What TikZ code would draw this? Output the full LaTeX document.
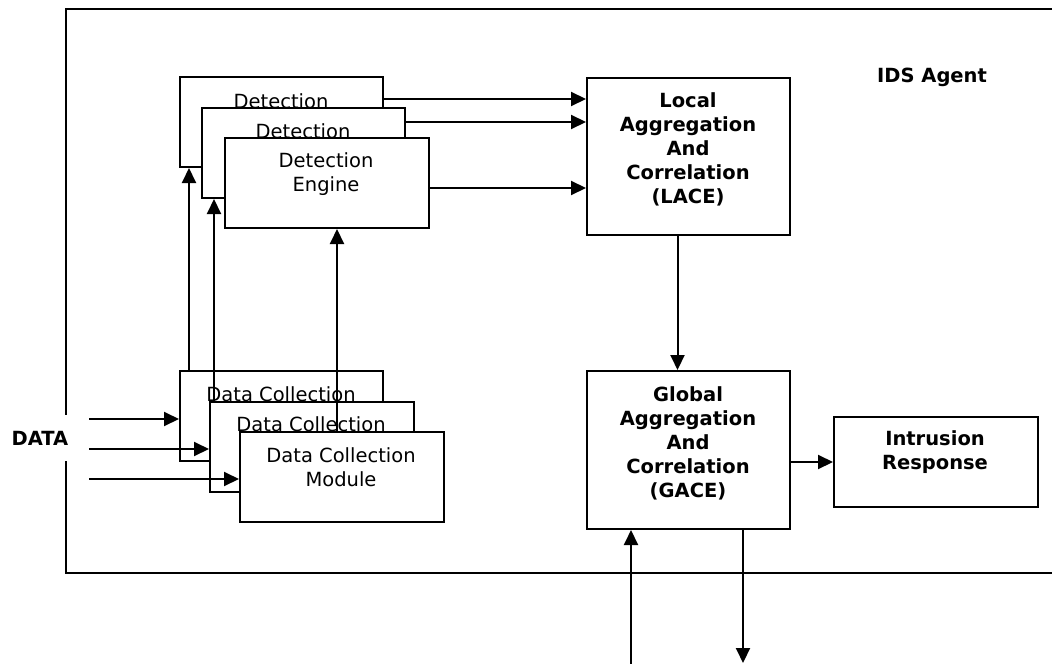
\documentclass[tikz,border=0pt]{standalone}
\usepackage{fontspec}
\setmainfont{DejaVu Sans}
\usetikzlibrary{arrows.meta}
\begin{document}
\begin{tikzpicture}[x=0.5pt,y=-0.5pt,line width=1pt,
  box/.style={draw,fill=white,inner sep=0pt,anchor=north west,
    minimum width=101.5pt,minimum height=45pt},
  txt/.style={inner sep=0pt,align=center,font=\fontsize{9.75pt}{12pt}\selectfont},
  btxt/.style={txt,font=\fontsize{9.75pt}{12pt}\selectfont\bfseries},
  arr/.style={-{Triangle[length=7.5pt,width=7pt]}}]
\useasboundingbox (0,0) rectangle (1052,663);

% agent frame, open on the right
\draw (1053,9) -- (66,9) -- (66,573) -- (1053,573);
\node[btxt] (agent) at (932,77) {IDS Agent};
\node[btxt,fill=white,minimum height=23pt,inner xsep=1pt] (data) at (40,438) {DATA};

% detection engines (stacked)
\node[box] (d1) at (179,76) {};
\node[txt] (d1t) at (281,101) {Detection};
\node[box] (d2) at (201,107) {};
\node[txt] (d2t) at (303,131) {Detection};
\node[box,minimum width=102pt] (d3) at (224,137) {};
\node[txt] (d3t) at (326,174) {Detection\\Engine};

% data collection modules (stacked)
\node[box] (c1) at (179,370) {};
\node[txt] (c1t) at (281,394) {Data Collection};
\node[box,minimum width=102pt] (c2) at (209,401) {};
\node[txt] (c2t) at (311,424) {Data Collection};
\node[box,minimum width=102pt] (c3) at (239,431) {};
\node[txt] (c3t) at (341,467) {Data Collection\\Module};

% aggregation and response
\node[box,minimum height=78.5pt] (lace) at (586,77) {};
\node[btxt] (lacet) at (688,149) {Local\\Aggregation\\And\\Correlation\\(LACE)};
\node[box,minimum height=79pt] (gace) at (586,370) {};
\node[btxt] (gacet) at (688,443) {Global\\Aggregation\\And\\Correlation\\(GACE)};
\node[box,minimum width=102pt] (ir) at (833,416) {};
\node[btxt] (irt) at (935,452) {Intrusion\\Response};

% data inputs
\coordinate (in1) at (89,419);
\coordinate (in2) at (89,449);
\coordinate (in3) at (89,479);
\draw[arr] (in1) -- (in1 -| c1.west);
\draw[arr] (in2) -- (in2 -| c2.west);
\draw[arr] (in3) -- (in3 -| c3.west);

% collection -> detection
\draw[arr] ([xshift=5pt]c1.north west) coordinate (u1) -- (u1 |- d1.south);
\draw[arr] ([xshift=2.5pt]c2.north west) coordinate (u2) -- (u2 |- d2.south);
\draw[arr] ([xshift=49pt]c3.north west) coordinate (u3) -- (u3 |- d3.south);

% detection -> LACE
\draw[arr] ([yshift=-11.5pt]d1.north east) coordinate (r1) -- (r1 -| lace.west);
\draw[arr] ([yshift=-7.5pt]d2.north east) coordinate (r2) -- (r2 -| lace.west);
\draw[arr] ([yshift=-25.5pt]d3.north east) coordinate (r3) -- (r3 -| lace.west);

% LACE -> GACE -> response
\draw[arr] ([xshift=-5.5pt]lace.south) coordinate (m) -- (m |- gace.north);
\draw[arr] (gace.east |- ir.west) -- (ir.west);

% links to other agents
\coordinate (gin) at (631,664);
\coordinate (gout) at (743,663);
\draw[arr] (gin) -- (gin |- gace.south);
\draw[arr] (gout |- gace.south) -- (gout);
\end{tikzpicture}
\end{document}
